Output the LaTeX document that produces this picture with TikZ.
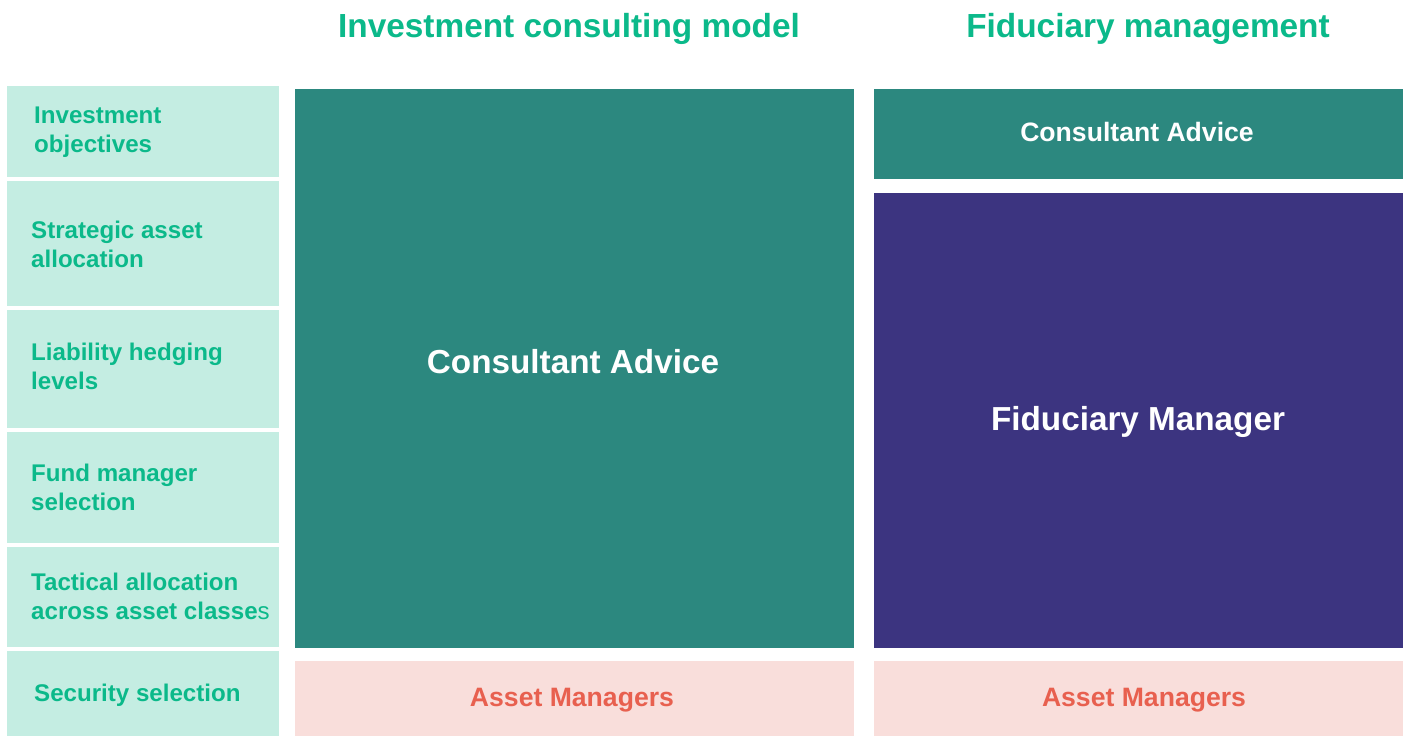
\documentclass[tikz,border=0pt]{standalone}
\usepackage{fontspec}
\setmainfont{Liberation Sans}
\definecolor{mint}{HTML}{C4EDE2}
\definecolor{mintink}{HTML}{0BB98A}
\definecolor{teal}{HTML}{2C887F}
\definecolor{plum}{HTML}{3C3480}
\definecolor{blush}{HTML}{F9DEDB}
\definecolor{blushink}{HTML}{E8604F}
\tikzset{
  x=1bp, y=-1bp,
  box/.style={anchor=north west, inner sep=0pt, outer sep=0pt, draw=none},
  stagebox/.style={box, fill=mint},
  stagetext/.style={anchor=base west, inner sep=0pt, align=left, text=mintink,
    font=\fontsize{24.2}{29}\selectfont\bfseries},
  heading/.style={anchor=base, inner sep=0pt, text=mintink,
    font=\fontsize{33.5}{40}\selectfont\bfseries},
  bigtext/.style={anchor=base, inner sep=0pt, text=white,
    font=\fontsize{33.4}{40}\selectfont\bfseries},
  smalltext/.style={anchor=base, inner sep=0pt,
    font=\fontsize{26.7}{32}\selectfont\bfseries},
}
\begin{document}
\begin{tikzpicture}
\path[use as bounding box, fill=white] (0,0) rectangle (1407,736);

% column headings
\node[heading] (hconsult) at (569,38) {Investment consulting model};
\node[heading] (hfiduc) at (1148,38) {Fiduciary management};

% stages of the investment process
\node[stagebox, minimum width=272bp, minimum height=91bp]  (s1) at (7,86)  {};
\node[stagebox, minimum width=272bp, minimum height=125bp] (s2) at (7,181) {};
\node[stagebox, minimum width=272bp, minimum height=118bp] (s3) at (7,310) {};
\node[stagebox, minimum width=272bp, minimum height=111bp] (s4) at (7,432) {};
\node[stagebox, minimum width=272bp, minimum height=100bp] (s5) at (7,547) {};
\node[stagebox, minimum width=272bp, minimum height=85bp]  (s6) at (7,651) {};

% two-line labels: anchored on the baseline of their second line
\node[stagetext] (t1) at (34,152) {Investment\\objectives};
\node[stagetext] (t2) at (31,267) {Strategic asset\\allocation};
\node[stagetext] (t3) at (31,389) {Liability hedging\\levels};
\node[stagetext] (t4) at (31,510) {Fund manager\\selection};
\node[stagetext] (t5) at (31,619) {Tactical allocation\\across asset classe{\mdseries s}};
\node[stagetext] (t6) at (34,701) {Security selection};

% investment consulting model
\node[box, fill=teal, minimum width=559bp, minimum height=559bp] (cbig) at (295,89) {};
\node[bigtext] (cbigt) at (573,373) {Consultant Advice};
\node[box, fill=blush, minimum width=559bp, minimum height=75bp] (am1) at (295,661) {};
\node[smalltext, text=blushink] (am1t) at (572,706) {Asset Managers};

% fiduciary management
\node[box, fill=teal, minimum width=529bp, minimum height=90bp] (csmall) at (874,89) {};
\node[smalltext, text=white] (csmallt) at (1137,141) {Consultant Advice};
\node[box, fill=plum, minimum width=529bp, minimum height=455bp] (fm) at (874,193) {};
\node[bigtext] (fmt) at (1138,430) {Fiduciary Manager};
\node[box, fill=blush, minimum width=529bp, minimum height=75bp] (am2) at (874,661) {};
\node[smalltext, text=blushink] (am2t) at (1144,706) {Asset Managers};
\end{tikzpicture}
\end{document}
